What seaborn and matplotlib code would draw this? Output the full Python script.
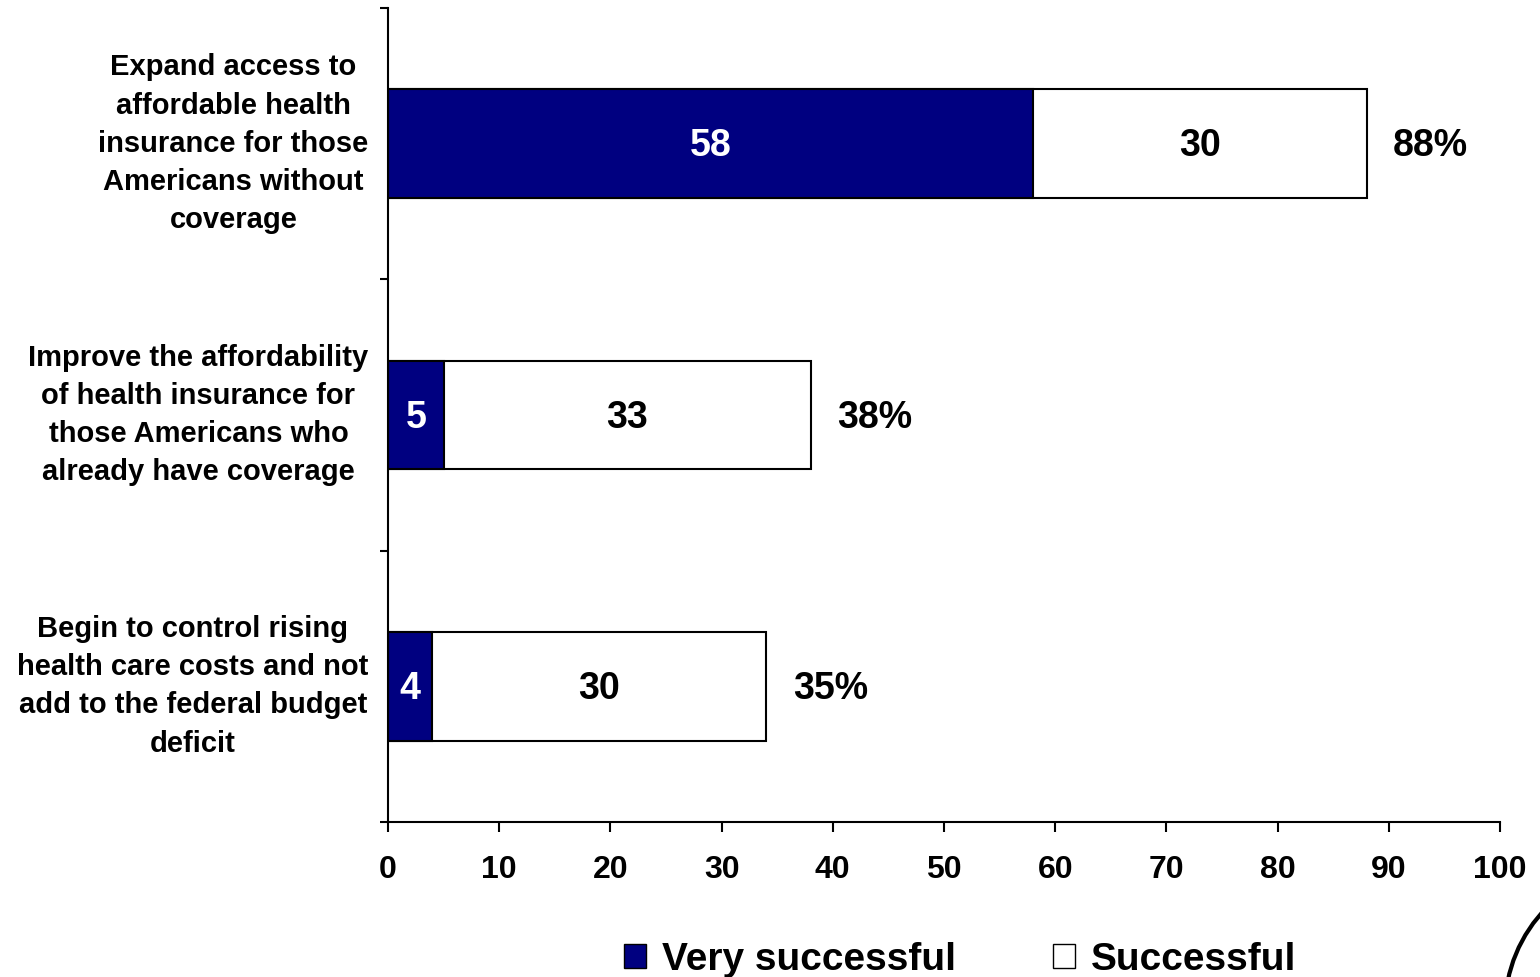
import matplotlib
matplotlib.use("Agg")
import matplotlib.pyplot as plt
import seaborn as sns
import pandas as pd
from matplotlib.patches import Patch, Ellipse

categories = [
    "Expand access to\naffordable health\ninsurance for those\nAmericans without\ncoverage",
    "Improve the affordability\nof health insurance for\nthose Americans who\nalready have coverage",
    "Begin to control rising\nhealth care costs and not\nadd to the federal budget\ndeficit",
]
very_successful = [58, 5, 4]
successful = [30, 33, 30]
total_labels = ["88%", "38%", "35%"]
series_names = ["Very successful", "Successful"]
x_ticks = [0, 10, 20, 30, 40, 50, 60, 70, 80, 90, 100]

NAVY = "#000080"

sns.set_theme(style="white")
plt.rcParams["font.family"] = ["Liberation Sans", "DejaVu Sans"]
plt.rcParams["font.weight"] = "bold"
for key in ["text.color", "axes.labelcolor", "xtick.color", "ytick.color", "axes.edgecolor"]:
    plt.rcParams[key] = "black"

df = pd.DataFrame({
    "category": categories,
    "very": very_successful,
    "succ": successful,
})
df["stack"] = df["very"] + df["succ"]

fig = plt.figure(figsize=(15.4, 9.77), dpi=100)
ax = fig.add_axes([388 / 1540, 1 - 822 / 977, (1500 - 388) / 1540, (822 - 8) / 977])

sns.barplot(data=df, x="stack", y="category", orient="h", color="white",
            edgecolor="black", linewidth=1.5, width=0.4, ax=ax, saturation=1)
sns.barplot(data=df, x="very", y="category", orient="h", color=NAVY,
            edgecolor="black", linewidth=1.5, width=0.4, ax=ax, saturation=1)

for i, row in df.iterrows():
    ax.text(row["very"] / 2, i + 0.01, str(row["very"]), color="white", ha="center",
            va="center", fontsize=27, fontweight="bold")
    ax.text(row["very"] + row["succ"] / 2, i + 0.01, str(row["succ"]), color="black",
            ha="center", va="center", fontsize=27, fontweight="bold")
    ax.text(row["stack"] + 2.4, i + 0.01, total_labels[i], color="black", ha="left",
            va="center", fontsize=27, fontweight="bold")

ax.set_xlim(0, 100)
ax.set_ylim(2.5, -0.5)
ax.set_xticks(x_ticks)
ax.set_xticklabels([str(t) for t in x_ticks], fontsize=23, fontweight="bold", color="black")
ax.set_yticks(range(len(categories)))
ax.set_yticklabels(categories, fontsize=21, fontweight="bold", linespacing=1.46, color="black")
for lbl in ax.get_yticklabels():
    lbl.set_multialignment("center")
    lbl.set_verticalalignment("center")
ax.set_yticks([-0.5, 0.5, 1.5, 2.5], minor=True)
ax.tick_params(axis="y", which="major", length=0, pad=14)
ax.tick_params(axis="y", which="minor", length=6, width=1.5, color="black", direction="out", left=True)
ax.tick_params(axis="x", which="major", length=7, width=1.5, color="black", direction="out", pad=17, bottom=True)
ax.set_xlabel("")
ax.set_ylabel("")
for side in ["top", "right"]:
    ax.spines[side].set_visible(False)
for side in ["left", "bottom"]:
    ax.spines[side].set_color("black")
    ax.spines[side].set_linewidth(1.5)

handles = [Patch(facecolor=NAVY, edgecolor="black", linewidth=1),
           Patch(facecolor="white", edgecolor="black", linewidth=1)]
fig.legend(handles, series_names, loc="center", bbox_to_anchor=(960 / 1540, 1 - 960 / 977),
           ncol=2, frameon=False, prop={"size": 28, "weight": "bold"},
           handlelength=0.57, handleheight=0.57, handletextpad=0.4, columnspacing=2.5)

arc = Ellipse((1649 / 1540, 1 - 1009 / 977), 288 / 1540, 288 / 977,
              transform=fig.transFigure, fill=False, edgecolor="black",
              linewidth=3, clip_on=False)
fig.add_artist(arc)

fig.savefig("out.png", dpi=100)
